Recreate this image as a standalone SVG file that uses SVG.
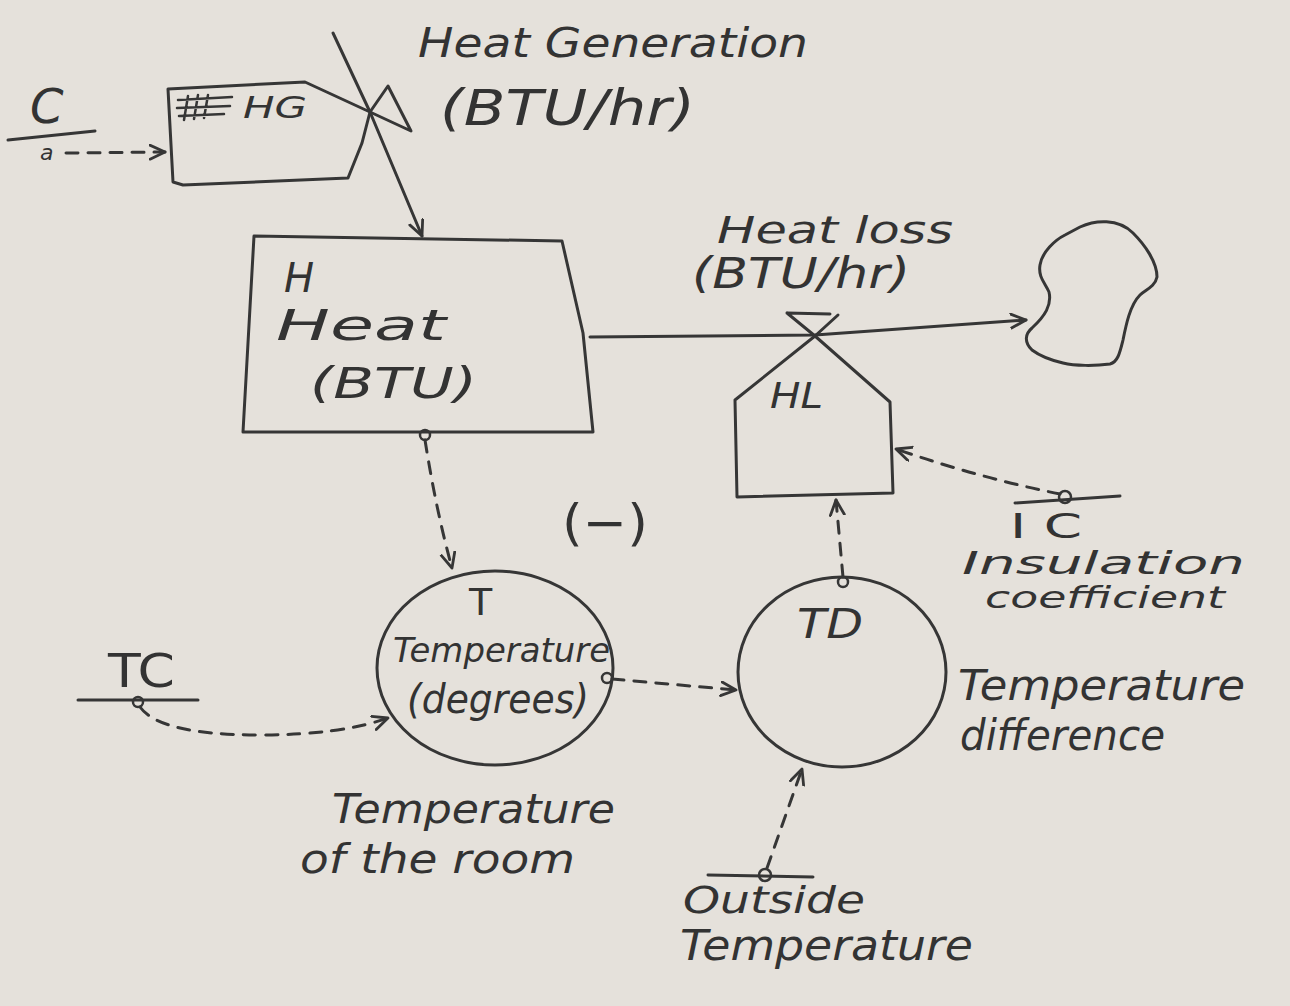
<svg xmlns="http://www.w3.org/2000/svg" width="1290" height="1006" viewBox="0 0 1290 1006">
<style>
  .ink{fill:none;stroke:#363636;stroke-width:3;stroke-linecap:round;stroke-linejoin:round}
  .thin{fill:none;stroke:#363636;stroke-width:2.5;stroke-linecap:round;stroke-linejoin:round}
  .dash{fill:none;stroke:#363636;stroke-width:3;stroke-dasharray:12 10;stroke-linecap:round}
  .hand{font-family:"DejaVu Sans","Liberation Sans",sans-serif;font-style:italic;fill:#333333}
  .print{font-family:"DejaVu Sans","Liberation Sans",sans-serif;fill:#333333}
</style>
<defs>
  <marker id="arr" markerUnits="userSpaceOnUse" markerWidth="24" markerHeight="24" refX="16" refY="8" orient="auto">
    <path d="M1,1 L16,8 L1,15" fill="none" stroke="#363636" stroke-width="2.8" stroke-linecap="round" stroke-linejoin="round"/>
  </marker>
</defs>
<rect width="1290" height="1006" fill="#e5e1db"/>

<g id="connectors">
  <!-- inflow to H -->
  <path class="ink" d="M333,33 L370,112 L422,236" marker-end="url(#arr)"/>
  <!-- outflow H to cloud -->
  <path class="ink" d="M590,337 L815,335 L1026,320" marker-end="url(#arr)"/>
  <!-- C/a to HG -->
  <path class="dash" d="M66,153 L165,152" marker-end="url(#arr)"/>
  <!-- H to T -->
  <path class="dash" d="M425,440 Q436,510 452,568" marker-end="url(#arr)"/>
  <!-- TC to T -->
  <path class="dash" d="M140,707 Q160,735 260,735 Q340,735 388,718" marker-end="url(#arr)"/>
  <!-- T to TD -->
  <path class="dash" d="M612,679 L736,690" marker-end="url(#arr)"/>
  <!-- TD to HL -->
  <path class="dash" d="M843,577 L836,500" marker-end="url(#arr)"/>
  <!-- IC to HL -->
  <path class="dash" d="M1060,494 Q980,478 896,449" marker-end="url(#arr)"/>
  <!-- Outside Temperature to TD -->
  <path class="dash" d="M767,868 L802,769" marker-end="url(#arr)"/>
</g>

<g id="Ca">
  <text class="hand" x="30" y="123" font-size="48">C</text>
  <path class="ink" d="M8,140 L95,131"/>
  <text class="hand" x="40" y="160" font-size="22">a</text>
</g>

<g id="HG">
  <path class="ink" d="M168,89 L305,82 L370,112 L362,143 L348,178 L183,185 L173,182 Z"/>
  <path class="thin" d="M178,100 L232,97 M177,108 L230,106 M179,116 L224,114 M188,96 L184,120 M198,95 L194,119 M208,95 L204,118"/>
  <text class="hand" x="243" y="118" font-size="30" textLength="64" lengthAdjust="spacingAndGlyphs">HG</text>
  <path class="ink" d="M370,112 L388,86 L411,131 Z"/>
  <text class="hand" x="418" y="57" font-size="40" textLength="390" lengthAdjust="spacingAndGlyphs">Heat Generation</text>
  <text class="hand" x="440" y="125" font-size="50" textLength="255" lengthAdjust="spacingAndGlyphs">(BTU/hr)</text>
</g>

<g id="H">
  <path class="ink" d="M254,236 L562,241 L583,333 L593,432 L243,432 Z"/>
  <text class="hand" x="284" y="292" font-size="40">H</text>
  <text class="hand" x="276" y="340" font-size="42" textLength="170" lengthAdjust="spacingAndGlyphs">Heat</text>
  <text class="hand" x="310" y="398" font-size="42" textLength="167" lengthAdjust="spacingAndGlyphs">(BTU)</text>
  <circle class="thin" cx="425" cy="435" r="5"/>
</g>

<g id="HL">
  <path class="ink" d="M787,313 L830,314 M787,313 L815,336 L838,315"/>
  <path class="ink" d="M815,336 L735,400 L737,497 L893,493 L890,402 Z"/>
  <text class="hand" x="770" y="408" font-size="36" textLength="53" lengthAdjust="spacingAndGlyphs">HL</text>
  <text class="hand" x="717" y="243" font-size="38" textLength="236" lengthAdjust="spacingAndGlyphs">Heat loss</text>
  <text class="hand" x="692" y="288" font-size="42" textLength="218" lengthAdjust="spacingAndGlyphs">(BTU/hr)</text>
</g>

<g id="cloud">
  <path class="ink" d="M1080,227 C1095,220 1118,218 1133,233 C1145,245 1157,262 1157,277 C1155,287 1145,290 1140,295 C1130,305 1126,325 1123,340 C1120,352 1118,362 1110,364 C1095,366 1075,366 1063,363 C1050,360 1040,356 1032,350 C1024,342 1025,334 1032,328 C1045,316 1052,305 1049,292 C1045,283 1038,277 1040,265 C1042,252 1055,240 1065,235 Z"/>
</g>

<g id="T">
  <ellipse class="ink" cx="495" cy="668" rx="118" ry="97"/>
  <text class="print" x="469" y="615" font-size="38">T</text>
  <text class="hand" x="393" y="662" font-size="34" textLength="217" lengthAdjust="spacingAndGlyphs">Temperature</text>
  <text class="hand" x="407" y="713" font-size="40" textLength="182" lengthAdjust="spacingAndGlyphs">(degrees)</text>
  <circle class="thin" cx="607" cy="678" r="5"/>
  <text class="hand" x="332" y="823" font-size="40" textLength="283" lengthAdjust="spacingAndGlyphs">Temperature</text>
  <text class="hand" x="300" y="873" font-size="40" textLength="275" lengthAdjust="spacingAndGlyphs">of the room</text>
</g>

<g id="minus">
  <text class="print" x="562" y="540" font-size="50" textLength="86" lengthAdjust="spacingAndGlyphs">(−)</text>
</g>

<g id="TD">
  <ellipse class="ink" cx="842" cy="672" rx="104" ry="95"/>
  <circle class="thin" cx="843" cy="582" r="5"/>
  <text class="hand" x="797" y="638" font-size="40" textLength="66" lengthAdjust="spacingAndGlyphs">TD</text>
  <text class="hand" x="958" y="700" font-size="42" textLength="287" lengthAdjust="spacingAndGlyphs">Temperature</text>
  <text class="hand" x="960" y="750" font-size="42" textLength="205" lengthAdjust="spacingAndGlyphs">difference</text>
</g>

<g id="IC">
  <path class="ink" d="M1015,503 L1120,496"/>
  <circle class="thin" cx="1065" cy="497" r="6"/>
  <text class="print" x="1010" y="538" font-size="34" textLength="72" lengthAdjust="spacingAndGlyphs">I C</text>
  <text class="hand" x="962" y="574" font-size="32" textLength="283" lengthAdjust="spacingAndGlyphs">Insulation</text>
  <text class="hand" x="985" y="608" font-size="30" textLength="240" lengthAdjust="spacingAndGlyphs">coefficient</text>
</g>

<g id="TC">
  <text class="print" x="108" y="687" font-size="46" textLength="67" lengthAdjust="spacingAndGlyphs">TC</text>
  <path class="ink" d="M78,700 L198,700"/>
  <circle class="thin" cx="138" cy="702" r="5"/>
</g>

<g id="OT">
  <path class="ink" d="M708,875 L813,877"/>
  <circle class="thin" cx="765" cy="875" r="6"/>
  <text class="hand" x="683" y="913" font-size="38" textLength="182" lengthAdjust="spacingAndGlyphs">Outside</text>
  <text class="hand" x="680" y="960" font-size="42" textLength="293" lengthAdjust="spacingAndGlyphs">Temperature</text>
</g>
</svg>
